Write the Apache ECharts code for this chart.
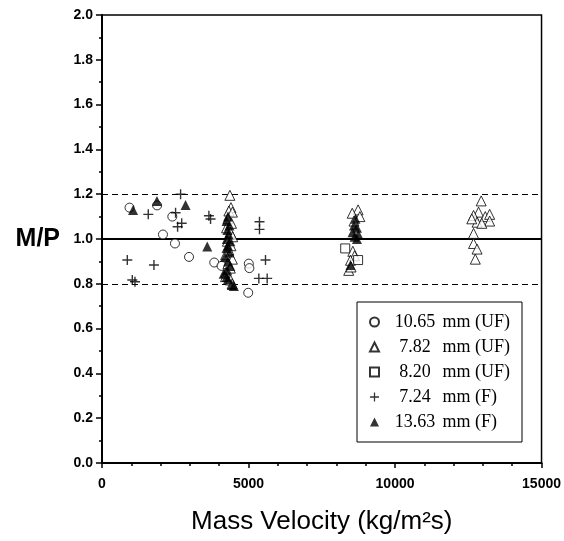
<!DOCTYPE html>
<html>
<head>
<meta charset="utf-8">
<script src="https://cdn.jsdelivr.net/npm/echarts@6/dist/echarts.min.js"></script>
<style>html,body{margin:0;padding:0;background:#fff}#c{width:564px;height:541px}</style>
</head>
<body>
<div id="c"></div>
<script>
// ---- data (Mass Velocity kg/m2s, M/P) ----
const seriesNames = ['10.65 mm (UF)', '7.82 mm (UF)', '8.20 mm (UF)', '7.24 mm (F)', '13.63 mm (F)'];
const circ1065 = [
  [940, 1.14], [1880, 1.15], [2400, 1.10], [2080, 1.02], [2490, 0.98], [2970, 0.92],
  [3830, 0.895], [4080, 0.88], [5010, 0.89], [5030, 0.87], [4990, 0.76]
];
const tri782 = [
  [4364, 1.195], [4400, 1.14], [4330, 1.125], [4450, 1.12], [4300, 1.09], [4420, 1.07],
  [4250, 1.05], [4380, 1.03], [4460, 1.01], [4280, 0.99], [4400, 0.97], [4330, 0.95],
  [4220, 0.93], [4450, 0.91], [4300, 0.89], [4380, 0.87], [4230, 0.85], [4216, 0.832],
  [4386, 0.817], [4443, 0.80],
  [8740, 1.13], [8540, 1.115], [8800, 1.10], [8600, 1.08], [8560, 0.945], [8620, 0.925],
  [8480, 0.905], [8420, 0.86], [8500, 0.875],
  [12940, 1.17], [12850, 1.12], [12680, 1.105], [13080, 1.10], [13230, 1.11], [13230, 1.08],
  [12800, 1.075], [12960, 1.07], [12620, 1.09], [12680, 1.025], [12680, 0.98], [12800, 0.955],
  [12740, 0.91]
];
const sq820 = [[8300, 0.958], [8740, 0.906]];
const plus724 = [
  [2682, 1.20], [1579, 1.11], [2511, 1.117], [2580, 1.055], [2720, 1.07], [864, 0.906],
  [1773, 0.884], [1034, 0.817], [1125, 0.809], [3648, 1.104], [3705, 1.089], [5580, 0.906],
  [5352, 0.824], [5637, 0.824], [5375, 1.077], [5375, 1.043]
];
const tri1363 = [
  [1060, 1.13], [1875, 1.17], [2852, 1.152], [3591, 0.966],
  [4300, 1.10], [4250, 1.08], [4350, 1.06], [4280, 1.04], [4320, 1.02], [4260, 1.00],
  [4380, 0.99], [4300, 0.97], [4250, 0.96], [4350, 0.94], [4200, 0.92], [4300, 0.90],
  [4380, 0.88], [4270, 0.86], [4150, 0.845], [4300, 0.82], [4250, 0.83], [4432, 0.795],
  [4500, 0.79],
  [8650, 1.09], [8600, 1.06], [8700, 1.05], [8550, 1.03], [8750, 1.02], [8620, 1.01],
  [8700, 1.00], [8480, 0.884]
];
const refSolid = 1.0;
const refDashed = [1.2, 0.8];
const xTicks = {min: 0, max: 15000, step: 5000};
const yTicks = {min: 0, max: 2.0, step: 0.2};

const plusPath = 'path://M4.3,0H5.7V4.3H10V5.7H5.7V10H4.3V5.7H0V4.3H4.3Z';
const openStyle = {color: '#fff', borderColor: '#000', borderWidth: 1};

const chart = echarts.init(document.getElementById('c'), null, {renderer: 'canvas'});
chart.setOption({
  animation: false,
  backgroundColor: '#fff',
  grid: {left: 102, right: 21, top: 15, bottom: 78, show: true, borderColor: '#000', borderWidth: 1.5, backgroundColor: 'transparent'},
  xAxis: {
    type: 'value', min: xTicks.min, max: xTicks.max, interval: xTicks.step,
    axisLine: {lineStyle: {color: '#000', width: 2}},
    axisTick: {show: true, inside: false, length: 5, lineStyle: {color: '#000', width: 1.5}},
    minorTick: {show: true, splitNumber: 5, length: 3, lineStyle: {color: '#000', width: 1.5}},
    splitLine: {show: false},
    axisLabel: {color: '#000', fontFamily: 'Liberation Sans', fontSize: 14, fontWeight: 'bold', margin: 14,
      formatter: v => String(v)},
    name: 'Mass Velocity (kg/m²s)', nameLocation: 'middle', nameGap: 46,
    nameTextStyle: {color: '#000', fontFamily: 'Liberation Sans', fontSize: 26}
  },
  yAxis: {
    type: 'value', min: yTicks.min, max: yTicks.max, interval: yTicks.step,
    axisLine: {lineStyle: {color: '#000', width: 2}},
    axisTick: {show: true, inside: false, length: 6, lineStyle: {color: '#000', width: 1.5}},
    minorTick: {show: true, splitNumber: 2, length: 3, lineStyle: {color: '#000', width: 1.5}},
    splitLine: {show: false},
    axisLabel: {color: '#000', fontFamily: 'Liberation Sans', fontSize: 14, fontWeight: 'bold', margin: 9,
      formatter: v => v.toFixed(1)},
    name: 'M/P', nameLocation: 'middle', nameRotate: 0, nameGap: 42,
    nameTextStyle: {color: '#000', fontFamily: 'Liberation Sans', fontSize: 25, fontWeight: 'bold', align: 'right', verticalAlign: 'middle', padding: [6, 0, 0, 0]}
  },
  legend: {
    orient: 'vertical', left: 357, top: 302,
    padding: [11, 12, 11, 12], itemGap: 7, itemWidth: 9, itemHeight: 9,
    borderColor: '#000', borderWidth: 1, backgroundColor: '#fff',
    data: seriesNames,
    textStyle: {
      color: '#000', fontFamily: 'Liberation Serif', fontSize: 18, lineHeight: 18,
      rich: {
        n: {width: 46, align: 'right', padding: [0, 0, 0, 8], fontFamily: 'Liberation Serif', fontSize: 18, lineHeight: 18, color: '#000'},
        u: {fontFamily: 'Liberation Serif', fontSize: 18, lineHeight: 18, color: '#000'}
      }
    },
    formatter: name => {
      const i = name.indexOf(' ');
      return '{n|' + name.slice(0, i) + '}{u|' + name.slice(i) + '}';
    }
  },
  series: [
    {
      name: seriesNames[0], type: 'scatter', data: circ1065, symbol: 'circle', symbolSize: 9,
      itemStyle: openStyle, z: 3,
      markLine: {
        silent: true, symbol: ['none', 'none'], label: {show: false}, z: 1,
        data: [
          {yAxis: refSolid, lineStyle: {color: '#000', width: 2, type: 'solid'}},
          {yAxis: refDashed[0], lineStyle: {color: '#000', width: 1, type: [6, 4]}},
          {yAxis: refDashed[1], lineStyle: {color: '#000', width: 1, type: [6, 4]}}
        ]
      }
    },
    {name: seriesNames[1], type: 'scatter', data: tri782, symbol: 'triangle', symbolSize: 10, itemStyle: openStyle, z: 3},
    {name: seriesNames[2], type: 'scatter', data: sq820, symbol: 'rect', symbolSize: 9, itemStyle: openStyle, z: 3},
    {name: seriesNames[3], type: 'scatter', data: plus724, symbol: plusPath, symbolSize: 10, itemStyle: {color: '#000'}, z: 4},
    {name: seriesNames[4], type: 'scatter', data: tri1363, symbol: 'triangle', symbolSize: 10, itemStyle: {color: '#000'}, z: 4}
  ]
});
</script>
</body>
</html>
